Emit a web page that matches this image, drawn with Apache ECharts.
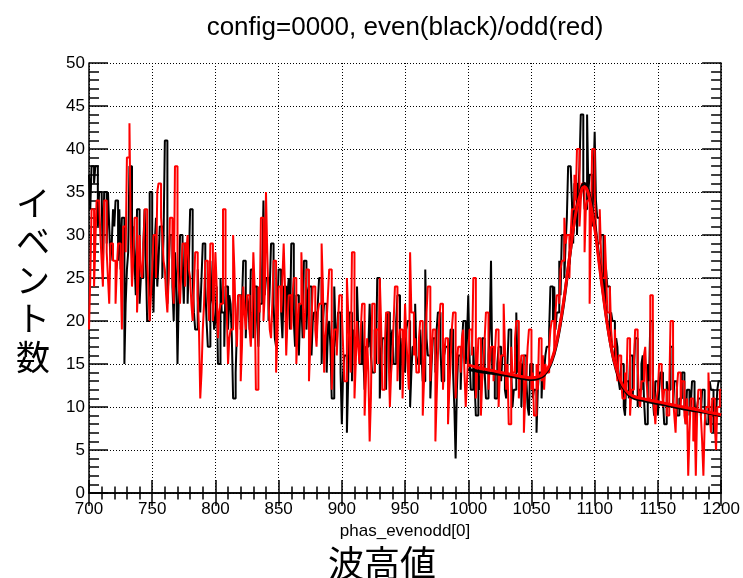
<!DOCTYPE html>
<html>
<head>
<meta charset="utf-8">
<script src="https://cdn.jsdelivr.net/npm/echarts@6/dist/echarts.min.js"></script>
<style>
html,body{margin:0;padding:0;background:#fff;}
#chart{width:743px;height:578px;}
</style>
</head>
<body>
<div id="chart"></div>
<script>
// ---- data ----
const titleText = 'config=0000, even(black)/odd(red)';
const xAxisTitle = 'phas_evenodd[0]';
const xLabelJa = '波高値';
const yLabelJa = 'イベント数';
const binStart = 700;
const binWidth = 1;
const xMin = 700, xMax = 1200, xStep = 50;
const yMin = 0, yMax = 50, yStep = 5;

// even (black) histogram, one bin per unit from 700 to 1199
const evenCounts = [
  37,33,38,38,36,38,38,31,35,35,35,26,35,35,29,35,31,27,29,33,
  31,34,34,27,33,26,32,32,15,22,26,28,38,38,25,31,27,23,33,33,
  22,25,25,29,33,27,20,20,35,35,28,21,29,32,24,27,31,31,25,30,
  41,41,22,26,30,30,24,20,28,25,15,23,30,30,26,22,29,29,22,27,
  33,33,25,21,19,19,26,22,21,25,29,29,24,20,17,17,27,23,22,19,
  20,24,15,15,25,21,21,17,24,24,19,23,22,18,11,11,14,19,23,23,
  19,22,27,27,18,23,22,19,26,26,18,24,24,20,17,22,22,26,34,23,
  25,25,20,24,29,29,22,18,17,21,26,26,21,18,24,24,18,23,25,19,
  29,29,20,17,23,23,16,21,22,18,27,27,19,23,24,24,16,20,21,21,
  18,22,25,25,15,20,22,22,14,19,20,17,11,11,24,19,17,21,21,14,
  8,14,16,16,7,13,21,21,13,19,18,18,24,19,15,15,20,16,12,17,
  17,17,22,16,14,14,19,15,25,25,11,15,18,18,15,12,21,21,13,18,
  19,15,15,20,23,23,12,16,18,18,14,19,20,20,10,14,17,17,22,16,
  15,15,19,16,13,13,26,18,16,16,11,15,18,18,14,19,21,21,17,13,
  13,16,17,17,11,15,19,19,14,10,4,12,16,16,12,17,20,20,15,18,
  23,16,12,12,17,13,9,9,15,12,13,18,18,14,11,11,16,19,27,14,
  14,11,11,15,17,17,13,16,16,12,11,15,19,19,14,10,12,12,21,14,
  15,15,10,14,16,16,13,10,9,15,15,11,12,12,7,12,14,14,11,15,
  14,16,17,17,19,24,24,20,24,19,21,21,27,23,30,30,25,29,32,38,
  38,38,34,29,36,36,30,35,38,44,44,36,33,33,44,35,37,37,31,36,
  42,34,32,32,29,30,30,23,22,26,24,24,18,21,20,20,15,18,17,13,
  12,15,15,10,9,13,13,11,16,16,11,14,18,18,10,12,12,15,16,11,
  8,8,15,13,20,20,11,9,13,13,9,12,14,14,11,8,8,13,12,12,
  17,17,10,13,13,9,9,11,11,14,14,10,8,12,12,9,10,13,13,11,
  7,10,11,11,9,12,12,10,8,8,10,13,12,12,7,10,9,12,13,13
];

// odd (red) histogram, one bin per unit from 700 to 1199
const oddCounts = [
  19,25,33,33,24,29,34,34,34,30,27,24,34,34,28,25,22,29,29,27,
  27,22,26,29,29,26,19,31,31,28,39,39,43,30,24,27,32,32,21,25,
  30,26,25,28,33,33,27,24,20,23,26,30,30,25,35,36,36,32,30,27,
  26,23,21,25,32,32,25,22,38,38,27,24,22,26,29,29,24,28,30,26,
  25,22,20,24,28,28,23,19,11,14,19,22,27,27,23,20,29,29,20,23,
  28,24,18,21,22,22,33,33,24,21,15,18,19,19,30,26,20,17,23,23,
  13,17,24,21,19,23,23,19,17,21,28,24,12,12,24,21,32,32,20,23,
  35,28,22,19,18,22,27,27,14,18,24,24,21,25,29,24,16,20,23,23,
  19,23,25,25,15,19,22,22,28,23,18,21,26,26,13,17,20,24,24,19,
  17,21,22,22,29,24,14,18,20,23,26,26,12,16,19,19,16,20,23,23,
  21,17,13,13,25,21,17,14,28,28,11,15,20,17,15,19,22,22,9,13,
  18,14,6,11,22,22,14,19,19,15,25,20,12,12,17,21,21,16,10,14,
  16,20,24,24,13,17,19,19,11,16,22,18,15,12,28,21,21,16,18,14,
  14,18,20,20,9,13,17,21,24,24,13,16,19,19,6,11,16,20,22,22,
  12,16,18,18,8,12,15,19,21,21,11,15,17,17,14,18,19,14,10,13,
  16,19,19,16,25,25,11,14,18,18,9,13,15,18,21,21,12,15,17,17,
  13,16,19,19,10,14,16,16,22,17,12,15,8,8,17,14,14,18,20,20,
  11,14,16,16,7,11,14,17,19,19,12,14,9,9,15,12,18,18,13,16,
  12,15,14,14,17,19,20,20,16,21,23,23,22,26,27,27,32,29,30,30,
  25,30,33,33,37,34,40,40,31,34,36,36,28,33,34,34,22,31,40,40,
  35,31,29,29,33,28,25,25,30,26,21,21,24,19,17,17,19,15,13,16,
  16,13,11,11,14,12,18,18,9,12,12,15,19,19,15,11,10,13,13,16,
  17,13,11,11,23,23,14,10,8,11,12,15,15,13,10,12,12,9,9,12,
  20,20,11,9,7,12,14,14,10,13,13,9,8,11,2,7,11,11,6,10,
  2,9,12,12,9,6,2,8,10,10,14,9,7,11,11,8,5,10,10,12
];

// fit curves
const fitX     = [1000,1010,1020,1030,1040,1050,1055,1060,1065,1070,1075,1080,1085,1090,1092,1095,1100,1105,1110,1115,1120,1125,1130,1140,1150,1160,1170,1180,1190,1200];
const fitEven  = [14.4,14.1,13.9,13.7,13.4,13.2,13.3,13.7,14.9,17.4,21.6,27.2,32.6,35.7,36.0,35.2,31.2,25.3,19.7,15.5,13.0,11.7,11.1,10.7,10.4,10.1,9.8,9.55,9.3,9.0];
const fitOdd   = [14.9,14.5,14.2,13.9,13.6,13.4,13.5,13.9,15.1,17.6,21.8,27.3,32.5,35.4,35.6,34.8,30.8,25.0,19.6,15.6,13.2,11.9,11.3,10.9,10.6,10.3,10.0,9.7,9.4,9.1];

// ---- build ----
function histData(counts){
  const d = counts.map((v,i)=>[binStart + i*binWidth, v]);
  d.push([binStart + counts.length*binWidth, counts[counts.length-1]]);
  return d;
}
function zip(xs, ys){ return xs.map((x,i)=>[x, ys[i]]); }

const FONT = '"Liberation Sans", Arial, Helvetica, sans-serif';
const JFONT = '"Noto Sans CJK JP", sans-serif';

const chart = echarts.init(document.getElementById('chart'), null, {renderer:'canvas'});

const frameLine = {show:true, lineStyle:{color:'#000', width:1.5}};
const gridDots = {show:true, lineStyle:{color:'#000', width:1, type:[1,2]}};
const plain = v => String(v);

chart.setOption({
  animation:false,
  backgroundColor:'#fff',
  grid:{left:89, right:21, top:63, bottom:85},
  xAxis:[
    {type:'value', min:xMin, max:xMax, interval:xStep, position:'bottom',
     axisLine:frameLine,
     axisTick:{show:true, inside:true, length:13, lineStyle:{color:'#000', width:1.5}},
     minorTick:{show:true, splitNumber:5, length:6.5, lineStyle:{color:'#000', width:1.5}},
     axisLabel:{show:true, margin:8, fontFamily:FONT, fontSize:17, color:'#000', formatter:plain},
     splitLine:gridDots,
     name:xAxisTitle, nameLocation:'middle', nameGap:18,
     nameTextStyle:{fontFamily:FONT, fontSize:17, color:'#000'}
    },
    {type:'value', min:xMin, max:xMax, interval:xStep, position:'top',
     axisLine:frameLine,
     axisTick:{show:true, inside:true, length:13, lineStyle:{color:'#000', width:1.5}},
     minorTick:{show:true, splitNumber:5, length:6.5, lineStyle:{color:'#000', width:1.5}},
     axisLabel:{show:false}, splitLine:{show:false}
    }
  ],
  yAxis:[
    {type:'value', min:yMin, max:yMax, interval:yStep, position:'left',
     axisLine:frameLine,
     axisTick:{show:true, inside:true, length:19, lineStyle:{color:'#000', width:1.5}},
     minorTick:{show:true, splitNumber:5, length:10, lineStyle:{color:'#000', width:1.5}},
     axisLabel:{show:true, margin:4, fontFamily:FONT, fontSize:17, color:'#000', formatter:plain},
     splitLine:gridDots
    },
    {type:'value', min:yMin, max:yMax, interval:yStep, position:'right',
     axisLine:frameLine,
     axisTick:{show:true, inside:true, length:19, lineStyle:{color:'#000', width:1.5}},
     minorTick:{show:true, splitNumber:5, length:10, lineStyle:{color:'#000', width:1.5}},
     axisLabel:{show:false}, splitLine:{show:false}
    }
  ],
  series:[
    {type:'line', name:'even', step:'end', data:histData(evenCounts), showSymbol:false,
     lineStyle:{color:'#000', width:2}, xAxisIndex:0, yAxisIndex:0, z:3},
    {type:'line', name:'odd', step:'end', data:histData(oddCounts), showSymbol:false,
     lineStyle:{color:'#ff0000', width:2}, xAxisIndex:0, yAxisIndex:0, z:4},
    {type:'line', name:'fitEven', data:zip(fitX, fitEven), smooth:0.3, showSymbol:false,
     lineStyle:{color:'#000', width:3}, z:5},
    {type:'line', name:'fitOdd', data:zip(fitX, fitOdd), smooth:0.3, showSymbol:false,
     lineStyle:{color:'#ff0000', width:3}, z:6}
  ],
  graphic:[
    {type:'text', x:405, y:28,
     style:{text:titleText, font:'26px ' + FONT, fill:'#000', align:'center', verticalAlign:'middle'}},
    {type:'text', x:382, y:563,
     style:{text:xLabelJa, font:'36px ' + JFONT, fill:'#000', align:'center', verticalAlign:'middle'}},
    {type:'text', x:33, y:280,
     style:{text:yLabelJa.split('').join('\n'), font:'34px ' + JFONT, fill:'#000',
            align:'center', verticalAlign:'middle', lineHeight:38.5}}
  ]
});
</script>
</body>
</html>
